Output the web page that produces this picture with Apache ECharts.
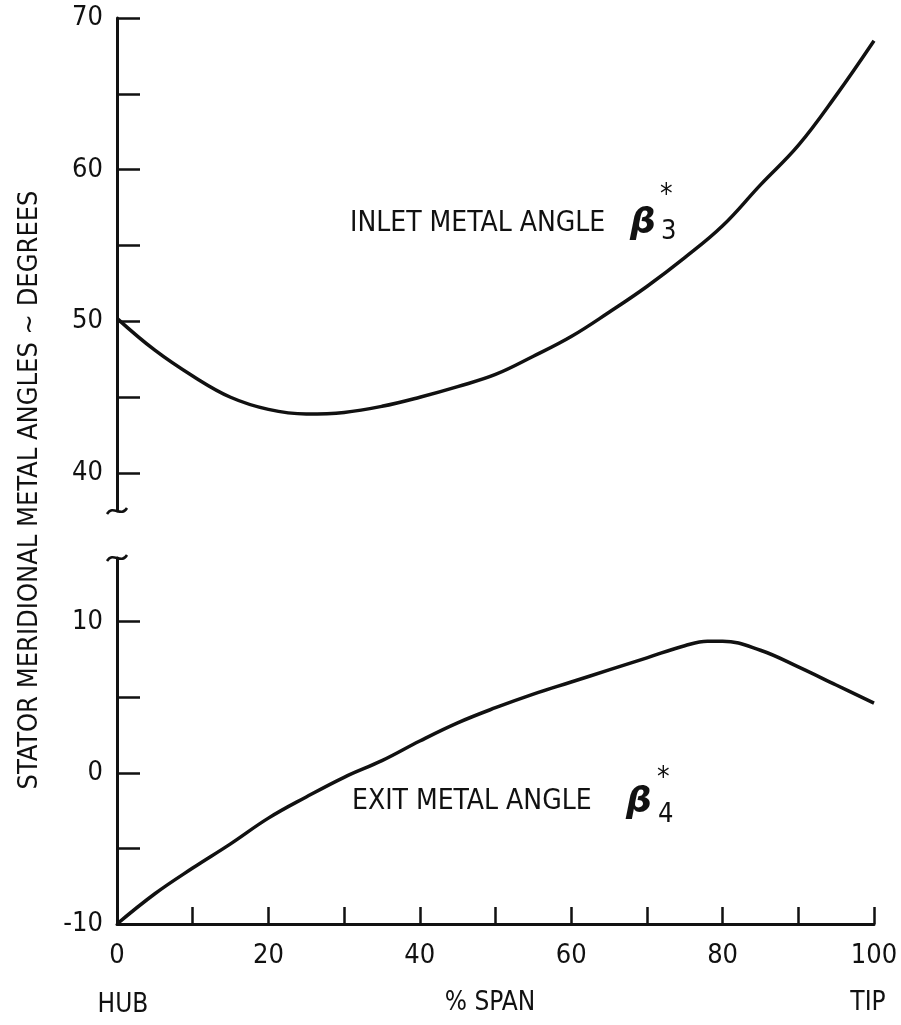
<!DOCTYPE html>
<html><head><meta charset="utf-8">
<script src="https://cdn.jsdelivr.net/npm/echarts@6/dist/echarts.min.js"></script>
<style>html,body{margin:0;padding:0;background:#fff}#c{width:901px;height:1025px}</style>
</head><body><div id="c"></div>
<script>
// ---- data ----
const inletSpan = [0,5,10,15,20,25,30,35,40,45,50,55,60,65,70,75,80,85,90,95,100];
const inletAngle = [50.2,48.1,46.4,45.0,44.2,43.9,44.0,44.4,45.0,45.7,46.5,47.7,49.0,50.6,52.3,54.2,56.3,59.0,61.6,64.9,68.5];
const exitSpan = [0,5,10,15,20,25,30,35,40,45,50,55,60,65,70,75,78,80,85,90,95,100];
const exitAngle = [-10.0,-8.0,-6.3,-4.7,-3.0,-1.6,-0.3,0.8,2.1,3.3,4.3,5.2,6.0,6.8,7.6,8.4,8.7,8.7,8.1,7.0,5.8,4.6];
const upperTicks = [40,45,50,55,60,65,70];
const upperLabels = [40,50,60,70];
const lowerTicks = [-10,-5,0,5,10];
const lowerLabels = [-10,0,10];
const xLabels = [0,20,40,60,80,100];
const yTitle = 'STATOR MERIDIONAL METAL ANGLES ~ DEGREES';
const inletText = 'INLET METAL ANGLE';
const exitText = 'EXIT METAL ANGLE';

const FONT = "'Liberation Sans Narrow','DejaVu Sans Condensed',sans-serif";
const INK = '#111';
const NUM = 27;

const chart = echarts.init(document.getElementById('c'), null, {renderer: 'canvas'});

const yCommon = {
  type: 'value',
  axisLine: {show: true, onZero: false, lineStyle: {color: INK, width: 3}},
  axisTick: {show: true, inside: true, length: 23, lineStyle: {color: INK, width: 2.5}},
  axisLabel: {color: INK, fontFamily: FONT, fontSize: NUM, margin: 14},
  splitLine: {show: false}
};

chart.setOption({
  animation: false,
  backgroundColor: '#fff',
  grid: [
    {left: 117, right: 27, top: 18, height: 493},
    {left: 117, right: 27, top: 558, height: 366}
  ],
  xAxis: [
    {gridIndex: 0, type: 'value', min: 0, max: 100, show: false},
    {gridIndex: 1, type: 'value', min: 0, max: 100, interval: 10,
     axisLine: {show: true, onZero: false, lineStyle: {color: INK, width: 3}},
     axisTick: {show: true, inside: true, length: 17, lineStyle: {color: INK, width: 2.5}},
     axisLabel: {color: INK, fontFamily: FONT, fontSize: NUM, margin: 18, customValues: xLabels},
     splitLine: {show: false}}
  ],
  yAxis: [
    Object.assign({}, yCommon, {gridIndex: 0, min: 37.5, max: 70,
      axisTick: Object.assign({}, yCommon.axisTick, {customValues: upperTicks}),
      axisLabel: Object.assign({}, yCommon.axisLabel, {customValues: upperLabels})}),
    Object.assign({}, yCommon, {gridIndex: 1, min: -10, max: 14.2,
      axisTick: Object.assign({}, yCommon.axisTick, {customValues: lowerTicks}),
      axisLabel: Object.assign({}, yCommon.axisLabel, {customValues: lowerLabels})})
  ],
  series: [
    {type: 'line', xAxisIndex: 0, yAxisIndex: 0, smooth: 0.4, symbol: 'none',
     lineStyle: {color: INK, width: 3.5},
     data: inletSpan.map((s, i) => [s, inletAngle[i]])},
    {type: 'line', xAxisIndex: 1, yAxisIndex: 1, smooth: 0.4, symbol: 'none',
     lineStyle: {color: INK, width: 3.5},
     data: exitSpan.map((s, i) => [s, exitAngle[i]])}
  ]
});

// break marks & annotations
const pUp = chart.convertToPixel({xAxisIndex: 0, yAxisIndex: 0}, [0, 37.5]);
const pLo = chart.convertToPixel({xAxisIndex: 1, yAxisIndex: 1}, [0, 14.2]);
function squiggle(p) {
  return {type: 'bezierCurve', silent: true,
    shape: {x1: p[0] - 10, y1: p[1] + 3, cpx1: p[0] - 4, cpy1: p[1] - 7, cpx2: p[0] + 4, cpy2: p[1] + 7, x2: p[0] + 10, y2: p[1] - 3},
    style: {stroke: INK, lineWidth: 2.5, fill: null}};
}
function txt(x, y, text, size, extra) {
  return {type: 'text', x: x, y: y, silent: true,
    style: Object.assign({text: text, fill: INK, font: size + 'px ' + FONT, textVerticalAlign: 'middle'}, extra || {})};
}
const BETA = "bold italic 36px 'DejaVu Sans',sans-serif";
chart.setOption({
  graphic: [
    squiggle(pUp),
    squiggle(pLo),
    {type: 'text', x: 30, y: 490, rotation: Math.PI / 2, silent: true,
     style: {text: yTitle, fill: INK, font: '27px ' + FONT, textAlign: 'center', textVerticalAlign: 'middle'}},
    txt(350, 224, inletText, 28),
    {type: 'text', x: 630, y: 224, silent: true, style: {text: 'β', fill: INK, font: BETA, textVerticalAlign: 'middle'}},
    txt(661, 232, '3', 27),
    txt(660, 196, '*', 28),
    txt(352, 802, exitText, 28),
    {type: 'text', x: 626, y: 803, silent: true, style: {text: 'β', fill: INK, font: BETA, textVerticalAlign: 'middle'}},
    txt(658, 815, '4', 27),
    txt(657, 779, '*', 28),
    txt(123, 1005, 'HUB', 26, {textAlign: 'center'}),
    txt(490, 1003, '% SPAN', 26, {textAlign: 'center'}),
    txt(868, 1003, 'TIP', 26, {textAlign: 'center'})
  ]
});
</script>
</body></html>
